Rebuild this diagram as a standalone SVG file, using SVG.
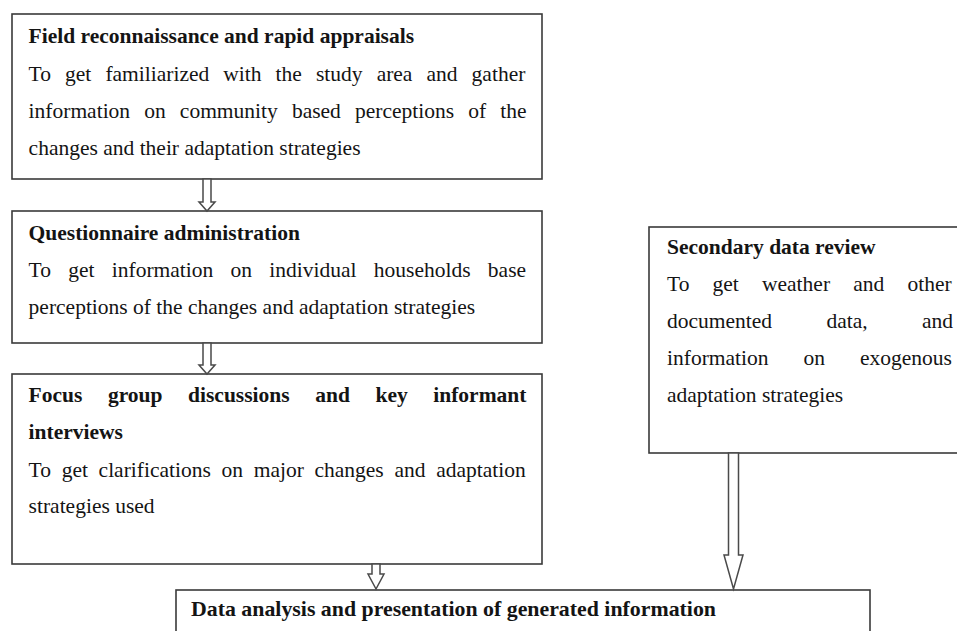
<svg xmlns="http://www.w3.org/2000/svg" width="957" height="631" viewBox="0 0 957 631">
  <style>
    .box { fill: #ffffff; stroke: #3a3a3a; stroke-width: 1.6; }
    .arrow { fill: #ffffff; stroke: #4a4a4a; stroke-width: 1.5; stroke-linejoin: miter; }
    text { font-family: "Liberation Serif", "Times New Roman", serif; font-size: 21.5px; fill: #141414; }
    .head { font-weight: bold; }
  </style>
  <rect width="957" height="631" fill="#ffffff"/>

  <g id="field-reconnaissance">
    <rect class="box" x="12" y="14" width="530" height="165"/>
    <text class="head" x="28.6" y="43">Field reconnaissance and rapid appraisals</text>
    <text x="28.6" y="81" word-spacing="8.7">To get familiarized with the study area and gather</text>
    <text x="28.6" y="118" word-spacing="8.75">information on community based perceptions of the</text>
    <text x="28.6" y="155">changes and their adaptation strategies</text>
  </g>

  <g id="questionnaire">
    <rect class="box" x="12" y="211" width="530" height="132"/>
    <text class="head" x="28.6" y="240">Questionnaire administration</text>
    <text x="28.6" y="277" word-spacing="11.9">To get information on individual households base</text>
    <text x="28.6" y="314">perceptions of the changes and adaptation strategies</text>
  </g>

  <g id="focus-groups">
    <rect class="box" x="12" y="374" width="530" height="190"/>
    <text class="head" x="28.6" y="402" word-spacing="20.2">Focus group discussions and key informant</text>
    <text class="head" x="28.6" y="439">interviews</text>
    <text x="28.6" y="477" word-spacing="5.3">To get clarifications on major changes and adaptation</text>
    <text x="28.6" y="513">strategies used</text>
  </g>

  <g id="secondary-data">
    <rect class="box" x="649" y="227" width="320" height="226"/>
    <text class="head" x="667" y="254">Secondary data review</text>
    <text x="667" y="291" word-spacing="17.8">To get weather and other</text>
    <text x="667" y="328" word-spacing="49">documented data, and</text>
    <text x="667" y="365" word-spacing="29.6">information on exogenous</text>
    <text x="667" y="402">adaptation strategies</text>
  </g>

  <g id="data-analysis">
    <rect class="box" x="176" y="590" width="694" height="60"/>
    <text class="head" x="191" y="616" font-size="24" textLength="525" lengthAdjust="spacingAndGlyphs">Data analysis and presentation of generated information</text>
  </g>

  <g id="connectors">
    <path class="arrow" d="M203,179 L211,179 L211,202 L215,202 L207,211 L199,202 L203,202 Z"/>
    <path class="arrow" d="M203,343 L211,343 L211,365 L215,365 L207,374 L199,365 L203,365 Z"/>
    <path class="arrow" d="M372,564 L380,564 L380,574 L384,574 L376,589 L368,574 L372,574 Z"/>
    <path class="arrow" d="M728.5,453 L738.5,453 L738.5,555 L743,555 L733.5,589 L724,555 L728.5,555 Z"/>
  </g>
</svg>
